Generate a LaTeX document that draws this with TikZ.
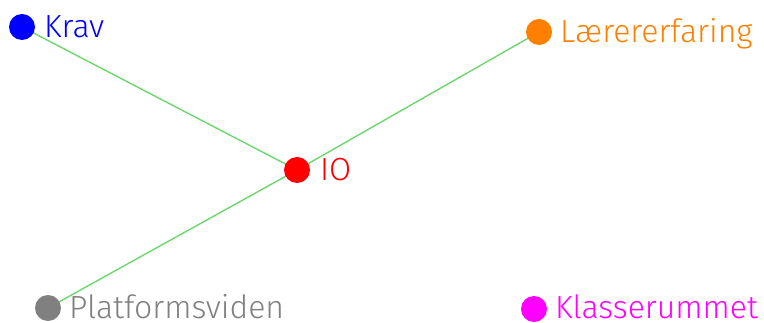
\documentclass[tikz,border=0pt]{standalone}
\usepackage{fontspec}
\setmainfont{Fira Sans Light}
\definecolor{edgegreen}{RGB}{110,214,110}
\definecolor{cblue}{RGB}{0,0,255}
\definecolor{corange}{RGB}{255,128,0}
\definecolor{cred}{RGB}{255,0,0}
\definecolor{cgray}{RGB}{128,128,128}
\definecolor{cmag}{RGB}{255,0,255}
\begin{document}
\begin{tikzpicture}[x=1pt,y=-1pt,
  dot/.style={circle,inner sep=0pt,minimum size=26pt},
  lbl/.style={anchor=base west,inner sep=0pt,font=\fontsize{32}{32}\selectfont},
  edge/.style={draw=edgegreen,line width=1.4pt}]
\useasboundingbox (0,0) rectangle (764,323);
\coordinate (krav) at (22,27);
\coordinate (laer) at (539,32);
\coordinate (io) at (297,170);
\coordinate (plat) at (48,308);
\coordinate (klas) at (534,309);
\draw[edge] (krav) -- (io);
\draw[edge] (laer) -- (io);
\draw[edge] (plat) -- (io);
\node[dot,fill=cblue] (kravd) at (krav) {};
\node[dot,fill=corange] (laerd) at (laer) {};
\node[dot,fill=cred] (iod) at (io) {};
\node[dot,fill=cgray] (platd) at (plat) {};
\node[dot,fill=cmag] (klasd) at (klas) {};
\node[lbl,text=cblue] (kravt) at (44,38) {Krav};
\node[lbl,text=corange] (laert) at (560,43) {Lærererfaring};
\node[lbl,text=cred] (iot) at (320,181) {IO};
\node[lbl,text=cgray] (platt) at (69,319) {Platformsviden};
\node[lbl,text=cmag] (klast) at (555,319) {Klasserummet};
\end{tikzpicture}
\end{document}
